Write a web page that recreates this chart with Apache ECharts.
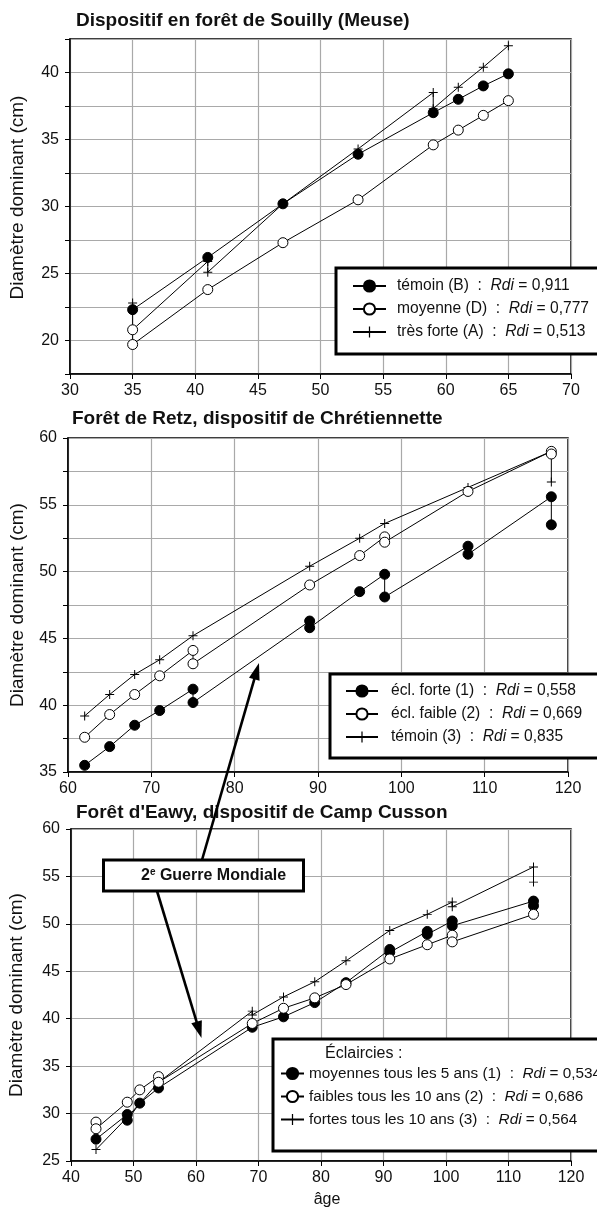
<!DOCTYPE html>
<html><head><meta charset="utf-8">
<script src="https://cdn.jsdelivr.net/npm/echarts@6/dist/echarts.min.js"></script>
<style>html,body{margin:0;padding:0;background:#fff}#c{width:597px;height:1208px}</style>
</head><body><div id="c"></div>
<script>
// ---------- Panel 1 : Souilly ----------
const p1Title = 'Dispositif en forêt de Souilly (Meuse)';
const p1Names = ['témoin (B)', 'moyenne (D)', 'très forte (A)'];
const p1Rdi = ['0,911', '0,777', '0,513'];
const p1XTicks = [30, 35, 40, 45, 50, 55, 60, 65, 70];
const p1YTicks = [20, 25, 30, 35, 40];
const p1AgeB = [35, 41, 47, 53, 59, 61, 63, 65];
const p1DiaB = [22.3, 26.2, 30.2, 33.9, 37.0, 38.0, 39.0, 39.9];
const p1AgeD = [35, 35, 41, 47, 53, 59, 61, 63, 65];
const p1DiaD = [20.8, 19.7, 23.8, 27.3, 30.5, 34.6, 35.7, 36.8, 37.9];
const p1AgeA = [35, 35, 41, 41, 47, 53, 59, 59, 61, 63, 65];
const p1DiaA = [22.8, 20.8, 25.9, 25.1, 30.2, 34.3, 38.5, 37.3, 38.9, 40.4, 42.0];

// ---------- Panel 2 : Retz ----------
const p2Title = 'Forêt de Retz, dispositif de Chrétiennette';
const p2Names = ['écl. forte (1)', 'écl. faible (2)', 'témoin (3)'];
const p2Rdi = ['0,558', '0,669', '0,835'];
const p2XTicks = [60, 70, 80, 90, 100, 110, 120];
const p2YTicks = [35, 40, 45, 50, 55, 60];
const p2Age1 = [62, 65, 68, 71, 75, 75, 89, 89, 95, 98, 98, 108, 108, 118, 118];
const p2Dia1 = [35.5, 36.9, 38.5, 39.6, 41.2, 40.2, 46.3, 45.8, 48.5, 49.8, 48.1, 51.9, 51.3, 55.6, 53.5];
const p2Age2 = [62, 65, 68, 71, 75, 75, 89, 95, 98, 98, 108, 118, 118];
const p2Dia2 = [37.6, 39.3, 40.8, 42.2, 44.1, 43.1, 49.0, 51.2, 52.6, 52.2, 56.0, 59.0, 58.8];
const p2Age3 = [62, 65, 68, 71, 75, 89, 95, 98, 108, 118, 118];
const p2Dia3 = [39.2, 40.8, 42.3, 43.4, 45.2, 50.4, 52.5, 53.6, 56.3, 59.0, 56.7];

// ---------- Panel 3 : Eawy ----------
const p3Title = "Forêt d'Eawy, dispositif de Camp Cusson";
const p3Names = ['moyennes tous les 5 ans (1)', 'faibles tous les 10 ans (2)', 'fortes tous les 10 ans (3)'];
const p3Rdi = ['0,534', '0,686', '0,564'];
const p3XTicks = [40, 50, 60, 70, 80, 90, 100, 110, 120];
const p3YTicks = [25, 30, 35, 40, 45, 50, 55, 60];
const p3Age1 = [44, 49, 49, 51, 54, 69, 74, 79, 84, 91, 91, 97, 97, 101, 101, 114, 114];
const p3Dia1 = [27.3, 29.9, 29.3, 31.1, 32.7, 39.1, 40.2, 41.7, 43.8, 47.3, 47.0, 49.2, 48.9, 50.3, 49.8, 52.4, 51.9];
const p3Age2 = [44, 44, 49, 51, 54, 54, 69, 74, 79, 84, 91, 97, 101, 101, 114];
const p3Dia2 = [29.1, 28.4, 31.2, 32.5, 33.9, 33.3, 39.5, 41.1, 42.2, 43.6, 46.3, 47.8, 48.8, 48.1, 51.0];
const p3Age3 = [44, 49, 54, 69, 69, 74, 79, 84, 91, 97, 101, 101, 114, 114];
const p3Dia3 = [26.2, 29.6, 33.3, 40.8, 40.4, 42.3, 43.9, 46.1, 49.3, 51.0, 52.3, 51.8, 56.0, 54.4];

const yName = 'Diamètre dominant (cm)';
const xName = 'âge';
const warLabel = ['2', 'e', ' Guerre Mondiale'];
const legendHeader = 'Éclaircies :';

// ---------- rendering ----------
const FONT = '"Liberation Sans", Arial, Helvetica, sans-serif';
const INK = '#111';
const PLUS = 'path://M0,4.45H10V5.55H0ZM4.45,0H5.55V10H4.45Z';
const KIND = {
  filled: { symbol: 'circle', symbolSize: 10, itemStyle: { color: '#000', borderColor: '#000', borderWidth: 1 } },
  open:   { symbol: 'circle', symbolSize: 10, itemStyle: { color: '#fff', borderColor: '#000', borderWidth: 1 } },
  plus:   { symbol: PLUS, symbolSize: 9, itemStyle: { color: '#000', borderWidth: 0 } }
};
function pts(a, v) { return a.map((x, i) => [x, v[i]]); }
function ser(name, idx, kind, a, v) {
  return Object.assign({
    type: 'line', name: name, xAxisIndex: idx, yAxisIndex: idx, data: pts(a, v),
    showSymbol: true, showAllSymbol: true, animation: false, silent: true,
    lineStyle: { color: '#000', width: 1 }, emphasis: { disabled: true }
  }, KIND[kind]);
}
const gridLine = { show: true, lineStyle: { color: '#a9a9a9', width: 1.2 } };
function xAx(idx, ticks, withName) {
  const o = {
    type: 'value', gridIndex: idx, min: ticks[0], max: ticks[ticks.length - 1],
    interval: ticks[1] - ticks[0],
    axisLine: { show: true, onZero: false, lineStyle: { color: '#000', width: 1.5 } },
    axisTick: { show: true, inside: false, length: 5, lineStyle: { color: '#000', width: 1 } },
    axisLabel: { fontFamily: FONT, fontSize: 16, color: INK, margin: 9 },
    splitLine: gridLine
  };
  if (withName) {
    o.name = xName; o.nameLocation = 'middle'; o.nameGap = 31;
    o.nameTextStyle = { fontFamily: FONT, fontSize: 16, color: INK, padding: [0, 0, 0, 12] };
  }
  return o;
}
function yAx(idx, ticks, min, max, interval, gap, namePad) {
  return {
    type: 'value', gridIndex: idx, min: min, max: max, interval: interval,
    name: yName, nameLocation: 'middle', nameGap: gap,
    nameTextStyle: { fontFamily: FONT, fontSize: 19, color: INK, padding: namePad },
    axisLine: { show: true, onZero: false, lineStyle: { color: '#000', width: 1.5 } },
    axisTick: { show: true, inside: false, length: 5, lineStyle: { color: '#000', width: 1 } },
    axisLabel: { fontFamily: FONT, fontSize: 16, color: INK, margin: 11,
      formatter: v => ticks.indexOf(v) >= 0 ? String(v) : '' },
    splitLine: gridLine
  };
}
function leg(names, rdis, left, top, itemWidth, gap, pad, fs) {
  return {
    show: true, data: names, orient: 'vertical', left: left, top: top,
    itemWidth: itemWidth, itemHeight: 14, itemGap: gap, padding: 0, z: 200,
    selectedMode: false, backgroundColor: 'transparent', borderWidth: 0,
    textStyle: { fontFamily: FONT, fontSize: fs, color: INK, padding: [0, 0, 0, pad],
      rich: {
        n: { fontFamily: FONT, fontSize: fs, color: INK, lineHeight: 16 },
        i: { fontFamily: FONT, fontSize: fs, color: INK, fontStyle: 'italic', lineHeight: 16 }
      } },
    formatter: function (name) {
      const k = names.indexOf(name);
      return '{n|' + name + '  :  }{i|Rdi}{n| = ' + rdis[k] + '}';
    }
  };
}
function box(x, y, w, h) {
  return { type: 'rect', z: 150, shape: { x: x, y: y, width: w, height: h },
    style: { fill: '#fff', stroke: '#000', lineWidth: 3 } };
}
function arrow(x1, y1, x2, y2) {
  const dx = x2 - x1, dy = y2 - y1, L = Math.hypot(dx, dy);
  const ux = dx / L, uy = dy / L, hl = 17, hw = 5.5;
  const bx = x2 - ux * hl, by = y2 - uy * hl;
  return [
    { type: 'line', z: 140, shape: { x1: x1, y1: y1, x2: bx + ux * 2, y2: by + uy * 2 },
      style: { stroke: '#000', lineWidth: 2.6 } },
    { type: 'polygon', z: 140, shape: { points: [[x2, y2], [bx - uy * hw, by + ux * hw], [bx + uy * hw, by - ux * hw]] },
      style: { fill: '#000' } }
  ];
}

const titleStyle = { fontFamily: FONT, fontSize: 19, fontWeight: 'bold', color: INK };
const option = {
  backgroundColor: '#fff',
  animation: false,
  title: [
    { text: p1Title, left: 76, top: 11, padding: 0, textStyle: titleStyle },
    { text: p2Title, left: 72, top: 409, padding: 0, textStyle: titleStyle },
    { text: p3Title, left: 76, top: 803, padding: 0, textStyle: titleStyle }
  ],
  grid: [
    { left: 70, top: 39, width: 501, height: 335, show: true, borderColor: '#000', borderWidth: 1.5, containLabel: false, outerBoundsMode: 'none' },
    { left: 68, top: 438, width: 500, height: 334, show: true, borderColor: '#000', borderWidth: 1.5, containLabel: false, outerBoundsMode: 'none' },
    { left: 71, top: 829, width: 500, height: 332, show: true, borderColor: '#000', borderWidth: 1.5, containLabel: false, outerBoundsMode: 'none' }
  ],
  xAxis: [ xAx(0, p1XTicks, false), xAx(1, p2XTicks, false), xAx(2, p3XTicks, true) ],
  yAxis: [
    yAx(0, p1YTicks, 17.5, 42.5, 2.5, 43, [0, 0, 0, 18]),
    yAx(1, p2YTicks, 35, 60, 2.5, 41, 0),
    yAx(2, p3YTicks, 25, 60, 5, 45, 0)
  ],
  legend: [
    leg(p1Names, p1Rdi, 352, 278, 33, 7, 6, 15.6),
    leg(p2Names, p2Rdi, 345, 683, 32, 7, 8, 15.6),
    leg(p3Names, p3Rdi, 280, 1066, 23, 8, 0, 15.3)
  ],
  series: [
    ser(p1Names[2], 0, 'plus', p1AgeA, p1DiaA),
    ser(p1Names[1], 0, 'open', p1AgeD, p1DiaD),
    ser(p1Names[0], 0, 'filled', p1AgeB, p1DiaB),
    ser(p2Names[2], 1, 'plus', p2Age3, p2Dia3),
    ser(p2Names[0], 1, 'filled', p2Age1, p2Dia1),
    ser(p2Names[1], 1, 'open', p2Age2, p2Dia2),
    ser(p3Names[2], 2, 'plus', p3Age3, p3Dia3),
    ser(p3Names[0], 2, 'filled', p3Age1, p3Dia1),
    ser(p3Names[1], 2, 'open', p3Age2, p3Dia2)
  ],
  graphic: [
    box(336, 268, 300, 86),
    box(330, 674, 300, 84),
    box(273, 1039, 360, 112),
    { type: 'text', z: 160, x: 325, y: 1054,
      style: { text: legendHeader, fontFamily: FONT, fontSize: 16, fill: INK, verticalAlign: 'middle' } },
    ...arrow(202, 860, 259, 663),
    ...arrow(157, 891, 201.5, 1038),
    box(103.5, 860, 200, 31),
    { type: 'text', z: 160, x: 141, y: 876,
      style: {
        text: '{b|' + warLabel[0] + '}{s|' + warLabel[1] + '}{b|' + warLabel[2] + '}',
        verticalAlign: 'middle',
        rich: {
          b: { fontFamily: FONT, fontSize: 16, fontWeight: 'bold', fill: INK, lineHeight: 18 },
          s: { fontFamily: FONT, fontSize: 10, fontWeight: 'bold', fill: INK, lineHeight: 10, verticalAlign: 'top' }
        }
      } }
  ]
};
const chart = echarts.init(document.getElementById('c'), null, { renderer: 'canvas', width: 597, height: 1208 });
chart.setOption(option);
</script>
</body></html>
